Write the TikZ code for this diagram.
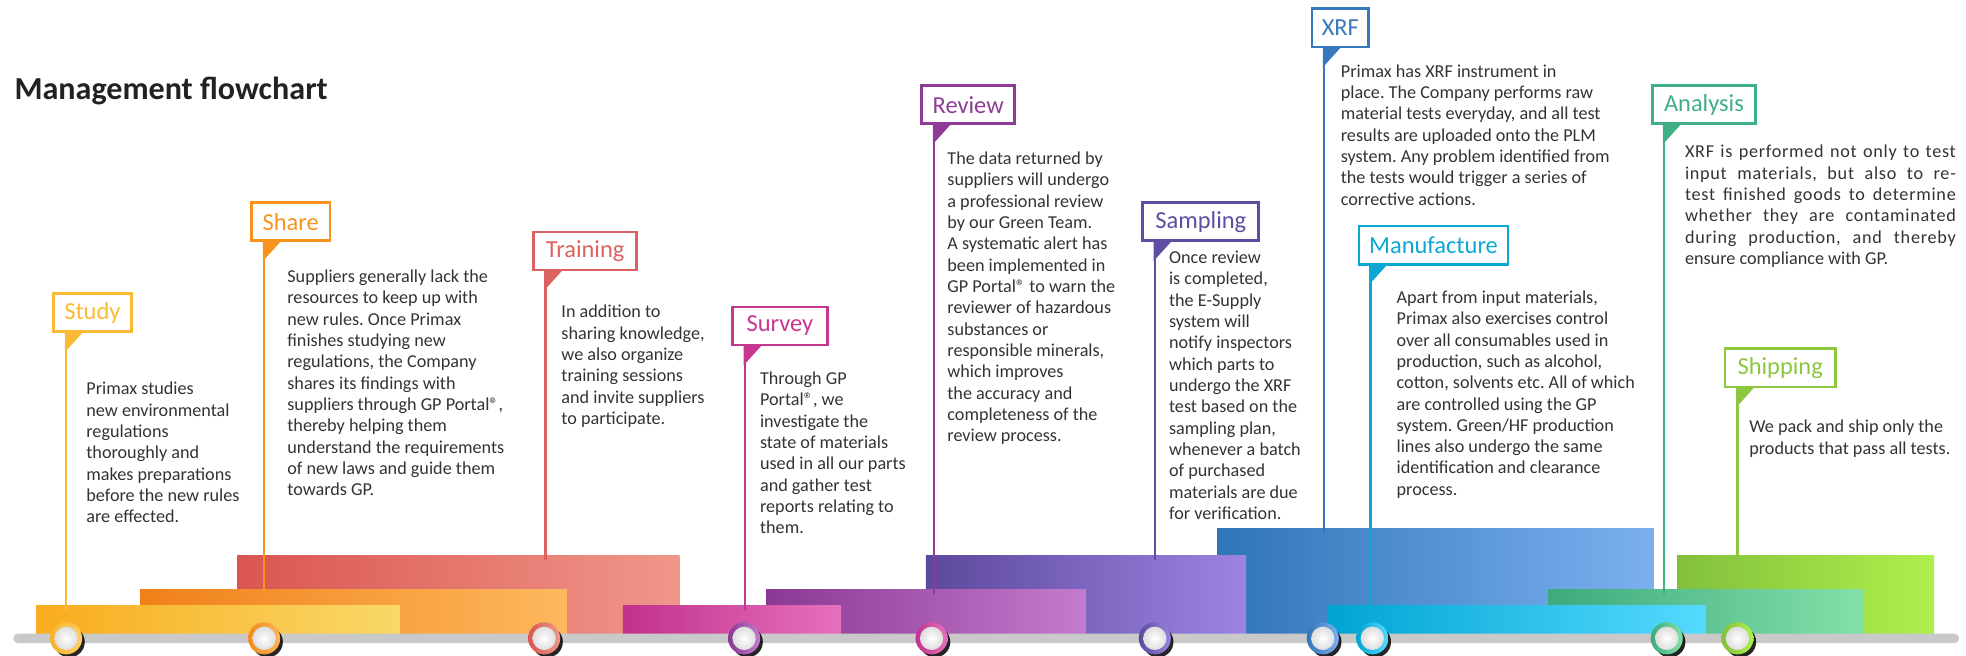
\documentclass[tikz,border=0pt]{standalone}
\usepackage{fontspec}
\setmainfont{Carlito}
\newfontfamily\spacedfont[LetterSpace=4]{Carlito}
\definecolor{cStudy}{HTML}{FBBA35}
\definecolor{cShare}{HTML}{F7941D}
\definecolor{cTraining}{HTML}{DA6361}
\definecolor{cSurvey}{HTML}{C7378F}
\definecolor{cReview}{HTML}{8E3C98}
\definecolor{cSampling}{HTML}{5E4DA3}
\definecolor{cXRF}{HTML}{3679BF}
\definecolor{cManu}{HTML}{0BA8D6}
\definecolor{cAnalysis}{HTML}{3FAF84}
\definecolor{cShipping}{HTML}{8DC63F}
\definecolor{bodyC}{HTML}{333333}
\definecolor{titleC}{HTML}{222222}
\definecolor{barGray}{HTML}{C9C9C9}
% bar gradient colours
\definecolor{yA}{HTML}{F9AC1E}\definecolor{yB}{HTML}{F9D867}
\definecolor{oA}{HTML}{F08019}\definecolor{oB}{HTML}{FDB85D}
\definecolor{rA}{HTML}{DA5551}\definecolor{rB}{HTML}{F0978A}
\definecolor{mA}{HTML}{C1318D}\definecolor{mB}{HTML}{E671BD}
\definecolor{pA}{HTML}{8A3894}\definecolor{pB}{HTML}{C47BCD}
\definecolor{vA}{HTML}{5C489C}\definecolor{vB}{HTML}{9C84E2}
\definecolor{bA}{HTML}{2F75B7}\definecolor{bB}{HTML}{7CB0F0}
\definecolor{cA}{HTML}{00A4D2}\definecolor{cB}{HTML}{56DAFF}
\definecolor{tA}{HTML}{3DAA7E}\definecolor{tB}{HTML}{84E0A8}
\definecolor{lA}{HTML}{82C03C}\definecolor{lB}{HTML}{AEF04C}
\definecolor{kA}{HTML}{F9B02B}\definecolor{kB}{HTML}{FDD060}
\definecolor{sA}{HTML}{F28A1E}\definecolor{sB}{HTML}{FDB45A}
\newcommand\knobdraw[3]{%
  \fill[black,opacity=.85] (#1+2.6,512.0) circle (12.3);
  \shade[left color=#2,right color=#3] (#1,509.1) circle (12.8);
  \shade[inner color=white,outer color=black!13] (#1,509.1) circle (9.3);
}
\newcommand\regmark{®}
\tikzset{
  lbl/.style={draw=#1,text=#1,fill=white,line width=2.2pt,minimum height=30.4pt,
    inner sep=0pt,font=\fontsize{19.5}{20}\selectfont},
  body/.style={anchor=base west,inner sep=0pt,text=bodyC,font=\fontsize{14.5}{17}\selectfont\frenchspacing},
  conn/.style={draw=#1,line width=2pt},
  pointer/.style={fill=#1},
}
\begin{document}
\begin{tikzpicture}[x=1pt,y=-1pt]
\useasboundingbox (0,0) rectangle (1568,523);
% title
\node[anchor=base west,inner sep=0pt,text=titleC,font=\bfseries\fontsize{25.6}{30}\selectfont] (title) at (11.4,79.2) {Management flowchart};
% stacked bars (back to front)
\shade[left color=rA,right color=rB] (189.1,442.7) rectangle (541.9,505.3);
\shade[left color=oA,right color=oB] (111.8,469.8) rectangle (452.2,505.3);
\shade[left color=yA,right color=yB] (28.8,483.3) rectangle (318.7,505.3);
\shade[left color=bA,right color=bB] (970.7,421.4) rectangle (1319,505.3);
\shade[left color=vA,right color=vB] (738.5,442.7) rectangle (993.8,505.3);
\shade[left color=pA,right color=pB] (611,469.8) rectangle (866.3,505.3);
\shade[left color=mA,right color=mB] (496.7,483.3) rectangle (670.8,505.3);
\shade[left color=lA,right color=lB] (1337.5,442.7) rectangle (1542.5,505.3);
\shade[left color=tA,right color=tB] (1234.8,469.8) rectangle (1486.2,505.3);
\shade[left color=cA,right color=cB] (1059.5,483.3) rectangle (1360.4,505.3);
% gray base bar
\fill[barGray,rounded corners=3.8pt] (10.7,505.3) rectangle (1562.5,513);
% label boxes
\node[lbl=cStudy,minimum width=62pt] (study) at (73.7,249.4) {Study};
\node[lbl=cShare,minimum width=62.6pt] (share) at (231.8,176.8) {Share};
\node[lbl=cTraining,minimum width=82.4pt] (training) at (466.7,200.2) {Training};
\node[lbl=cSurvey,minimum width=75.8pt] (survey) at (622,260) {Survey};
\node[lbl=cReview,minimum width=74.2pt] (review) at (772.2,83.5) {Review};
\node[lbl=cSampling,minimum width=92.4pt] (sampling) at (957.7,176.8) {Sampling};
\node[lbl=cXRF,minimum width=45.2pt] (xrf) at (1069,22.2) {XRF};
\node[lbl=cManu,minimum width=118.9pt] (manu) at (1143.3,195.5) {Manufacture};
\node[lbl=cAnalysis,minimum width=82.6pt] (analysis) at (1359,83.5) {Analysis};
\node[lbl=cShipping,minimum width=87.9pt] (shipping) at (1419.8,293.4) {Shipping};
% connector end points on the bars
\coordinate (studyL) at (52.7,487.3);
\coordinate (shareL) at (210.7,473.8);
\coordinate (trainingL) at (435,446.7);
\coordinate (surveyL) at (594,487.3);
\coordinate (reviewL) at (745,473.8);
\coordinate (samplingL) at (921,446.7);
\coordinate (xrfL) at (1056,425.4);
\coordinate (manuL) at (1093,487.3);
\coordinate (analysisL) at (1327.3,473.8);
\coordinate (shippingL) at (1385.7,446.7);
% connectors and pointers
\foreach \n/\c in {study/cStudy,share/cShare,training/cTraining,survey/cSurvey,review/cReview,sampling/cSampling,xrf/cXRF,manu/cManu,analysis/cAnalysis,shipping/cShipping}{
  \draw[conn=\c] (\n.south west -| \n L) -- (\n L);
  \fill[pointer=\c] (\n.south west -| \n L) ++(-1,-0.3) -- ++(14,0) -- ++(-14,15.5) -- cycle;
}
% knobs
\knobdraw{52.7}{kA}{kB}
\knobdraw{210.7}{sA}{sB}
\knobdraw{434}{rA}{rB}
\knobdraw{593.5}{pA}{pB}
\knobdraw{743}{mA}{mB}
\knobdraw{921}{vA}{vB}
\knobdraw{1055}{bA}{bB}
\knobdraw{1094.5}{cA}{cB}
\knobdraw{1329.3}{tA}{tB}
\knobdraw{1385.7}{lA}{lB}
% body texts
\node[body] (studyT) at (68.7,315) {\parbox[t]{150pt}{\raggedright
Primax studies\\new environmental\\regulations\\thoroughly and\\makes preparations\\before the new rules\\are effected.}};
\node[body] (shareT) at (229,225.4) {\parbox[t]{200pt}{\raggedright
Suppliers generally lack the\\resources to keep up with\\new rules. Once Primax\\finishes studying new\\regulations, the Company\\shares its findings with\\suppliers through GP Portal\regmark,\\thereby helping them\\understand the requirements\\of new laws and guide them\\towards GP.}};
\node[body] (trainingT) at (447.6,253.6) {\parbox[t]{150pt}{\raggedright
In addition to\\sharing knowledge,\\we also organize\\training sessions\\and invite suppliers\\to participate.}};
\node[body] (surveyT) at (606,306.6) {\parbox[t]{150pt}{\raggedright
Through GP\\Portal\regmark, we\\investigate the\\state of materials\\used in all our parts\\and gather test\\reports relating to\\them.}};
\node[body] (reviewT) at (755.4,131.3) {\parbox[t]{170pt}{\raggedright
The data returned by\\suppliers will undergo\\a professional review\\by our Green Team.\\A systematic alert has\\been implemented in\\GP Portal\regmark{} to warn the\\reviewer of hazardous\\substances or\\responsible minerals,\\which improves\\the accuracy and\\completeness of the\\review process.}};
\node[body] (samplingT) at (932.2,210.2) {\parbox[t]{150pt}{\raggedright
Once review\\is completed,\\the E-Supply\\system will\\notify inspectors\\which parts to\\undergo the XRF\\test based on the\\sampling plan,\\whenever a batch\\of purchased\\materials are due\\for verification.}};
\node[body] (xrfT) at (1069.2,61.6) {\parbox[t]{240pt}{\raggedright
Primax has XRF instrument in\\place. The Company performs raw\\material tests everyday, and all test\\results are uploaded onto the PLM\\system. Any problem identified from\\the tests would trigger a series of\\corrective actions.}};
\node[body] (manuT) at (1113.7,242) {\parbox[t]{220pt}{\raggedright
Apart from input materials,\\Primax also exercises control\\over all consumables used in\\production, such as alcohol,\\cotton, solvents etc. All of which\\are controlled using the GP\\system. Green/HF production\\lines also undergo the same\\identification and clearance\\process.}};
\node[body] (analysisT) at (1343.7,126) {\parbox[t]{216pt}{\raggedright
{\spacedfont\makebox[216pt][s]{XRF is performed not only to test}}\\
{\spacedfont\makebox[216pt][s]{input materials, but also to re-}}\\
{\spacedfont\makebox[216pt][s]{test finished goods to determine}}\\
{\spacedfont\makebox[216pt][s]{whether they are contaminated}}\\
{\spacedfont\makebox[216pt][s]{during production, and thereby}}\\
ensure compliance with GP.}};
\node[body] (shippingT) at (1395,345.3) {\parbox[t]{200pt}{\raggedright
We pack and ship only the\\products that pass all tests.}};
\end{tikzpicture}
\end{document}
